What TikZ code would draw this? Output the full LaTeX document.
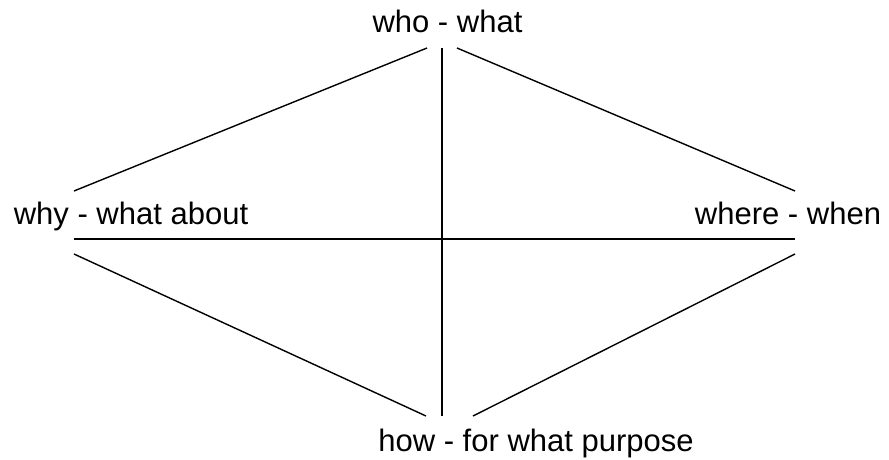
\documentclass[tikz,border=0pt]{standalone}
\usepackage{fontspec}
\setmainfont{Liberation Sans}
\usepackage{tikz}

\tikzset{
    label/.style={anchor=base,inner sep=0pt,font=\fontsize{31}{37}\selectfont},
    spoke/.style={line width=1.4pt}
}

\begin{document}
\begin{tikzpicture}[x=1pt,y=-1pt]
        \useasboundingbox (0,0) rectangle (889,459);
        \node[label] (who) at (447.5,32) {who - what};
        \node[label] (why) at (131,224) {why - what about};
        \node[label] (where) at (788,224) {where - when};
        \node[label] (how) at (536,451) {how - for what purpose};

        \foreach \n/\x/\y in {tl/427/48,tm/442/48,tr/457/48,lu/74/191,lm/74/239,ll/74/254,
                ru/795/191,rm/795/239,rl/795/254,bl/426/416,bm/442/416,br/473/416} {
            \coordinate (\n) at (\x,\y);
        }

        \foreach \a/\b in {tl/lu,tr/ru,ll/bl,rl/br,tm/bm,lm/rm} {
            \draw[spoke] (\a) -- (\b);
        }
    \end{tikzpicture}
\end{document}
